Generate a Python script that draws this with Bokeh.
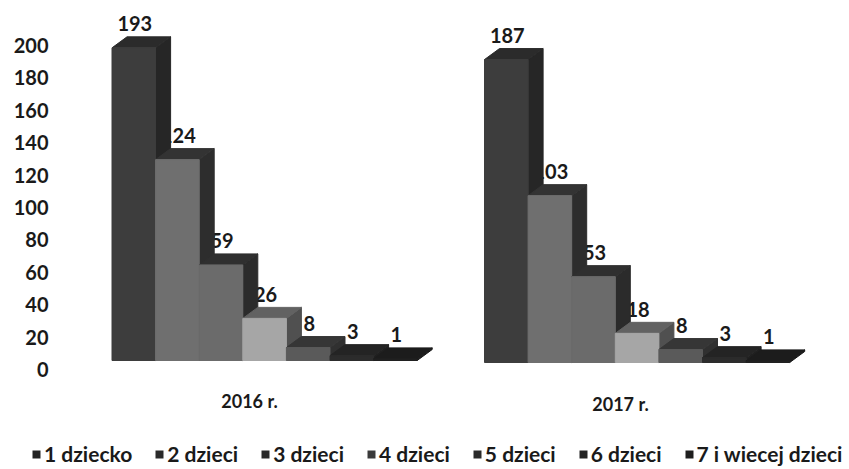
from bokeh.plotting import figure
from bokeh.embed import file_html
from bokeh.resources import INLINE
from bokeh.models import Range1d, FixedTicker, Legend, LegendItem
from bokeh.core.properties import value

years = ["2016 r.", "2017 r."]
categories = ["1 dziecko", "2 dzieci", "3 dzieci", "4 dzieci", "5 dzieci", "6 dzieci", "7 i wiecej dzieci"]
values_2016 = [193, 124, 59, 26, 8, 3, 1]
values_2017 = [187, 103, 53, 18, 8, 3, 1]
y_ticks = [0, 20, 40, 60, 80, 100, 120, 140, 160, 180, 200]

front_colors = ["#3d3d3d", "#6f6f6f", "#6b6b6b", "#a6a6a6", "#5a5a5a", "#2c2c2c", "#202020"]
side_colors = ["#262626", "#2d2d2d", "#2b2b2b", "#505050", "#303030", "#202020", "#181818"]
top_colors = ["#2b2b2b", "#333333", "#2f2f2f", "#626262", "#363636", "#242424", "#1c1c1c"]
swatch_colors = ["#222222", "#2a2a2a", "#2a2a2a", "#3a3a3a", "#2a2a2a", "#222222", "#1e1e1e"]

FONT = "Lato"
PX = 1.62            # pixels per unit
LEFT, RIGHT, TOP, BOTTOM = 0, 849, 0, 469   # frame, in page pixels
SLOT = 43.6
DX, DY = 15, 11      # 3D depth, pixels


def yrange(zero_px):
    return Range1d((zero_px - BOTTOM) / PX, (zero_px - TOP) / PX)


p = figure(width=RIGHT, height=BOTTOM, output_backend="svg", toolbar_location=None,
           x_range=Range1d(LEFT, RIGHT), y_range=yrange(369),
           min_border_left=0, min_border_right=0, min_border_top=0, min_border_bottom=0,
           outline_line_color=None, background_fill_color="white", x_axis_location=None)
p.grid.visible = False
p.extra_y_ranges = {"c2016": yrange(360), "c2017": yrange(362)}

ax = p.yaxis[0]
ax.ticker = FixedTicker(ticks=y_ticks)
ax.axis_line_color = None
ax.major_tick_line_color = None
ax.minor_tick_line_color = None
ax.major_tick_out = 0
ax.major_tick_in = 0
ax.major_label_standoff = -48
ax.major_label_text_font = FONT
ax.major_label_text_font_style = "bold"
ax.major_label_text_font_size = "20px"
ax.major_label_text_color = "#1a1a1a"

for values, x0, rng in ((values_2016, 111.5, "c2016"), (values_2017, 484.0, "c2017")):
    lefts = [x0 + i * SLOT for i in range(len(values))]
    # labels go first: the bars cover them partly, as in the reference
    p.text([l + SLOT / 2 + 1 for l in lefts], values, text=[str(v) for v in values],
           y_range_name=rng, y_offset=-(DY + 13),
           text_font=value(FONT), text_font_style="bold", text_font_size="20px",
           text_color="#1a1a1a", text_align="center", text_baseline="middle")
    dy = DY / PX
    for i, v in enumerate(values):
        l, r = lefts[i], lefts[i] + SLOT
        p.patch([r, r + DX, r + DX, r], [0, dy, v + dy, v], y_range_name=rng,
                fill_color=side_colors[i], line_color=side_colors[i])
        p.patch([l, l + DX, r + DX, r], [v, v + dy, v + dy, v], y_range_name=rng,
                fill_color=top_colors[i], line_color=top_colors[i])
        p.quad(left=[l], right=[r], bottom=[0], top=[v], y_range_name=rng,
               fill_color=front_colors[i], line_color=front_colors[i])

# the scan shows every legend swatch nearly black, whatever its bar's tone
legend_items = []
for name, col in zip(categories, swatch_colors):
    sw = p.quad(left=[0], right=[0], bottom=[0], top=[0], fill_color=col, line_color=col, line_alpha=0)
    legend_items.append(LegendItem(label=name, renderers=[sw]))

# year captions
p.text([249, 620], [(369 - 400) / PX, (369 - 403) / PX], text=years,
       text_font=value(FONT), text_font_style="bold", text_font_size="18px",
       text_color="#1a1a1a", text_align="center", text_baseline="middle")

legend = Legend(items=legend_items, orientation="horizontal", location=(31, 3),
                spacing=22, glyph_width=10, glyph_height=10, label_standoff=3, padding=0, margin=0,
                border_line_color=None, background_fill_alpha=0,
                label_text_font=FONT, label_text_font_style="bold", label_text_font_size="21px",
                label_text_color="#1a1a1a")
p.add_layout(legend, "center")

open("out.html", "w").write(file_html(p, INLINE))
